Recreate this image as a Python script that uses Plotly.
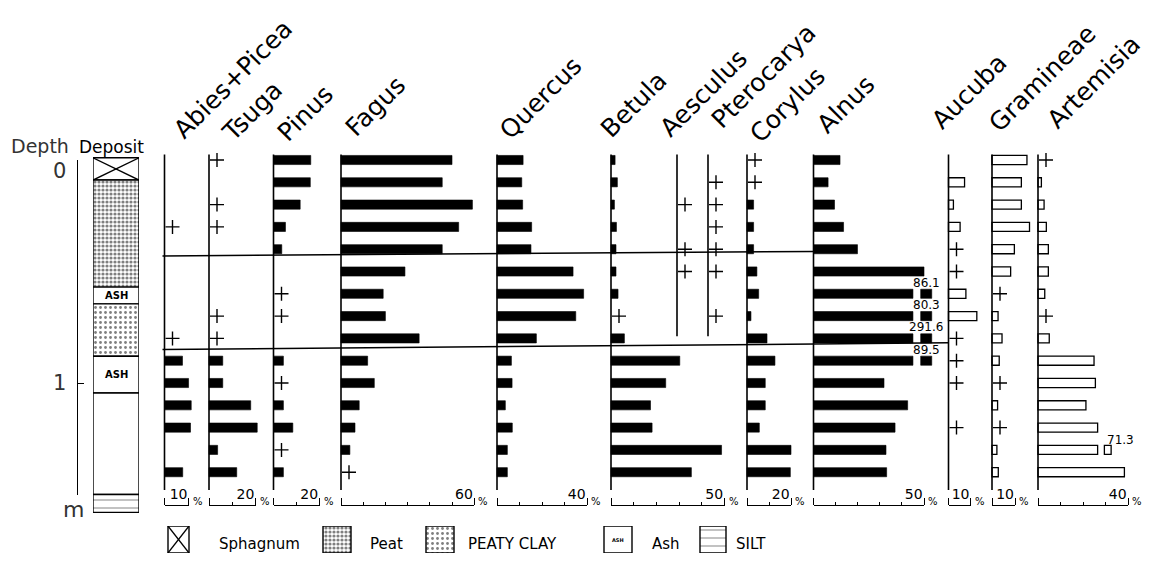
import plotly.graph_objects as go

W, H = 1156, 561
P = "+"  # trace (< 1 %)

# ---------------- data ----------------
DEPTHS_M = [0.0, 0.1, 0.2, 0.3, 0.4, 0.5, 0.6, 0.7, 0.8, 0.9, 1.0, 1.1, 1.2, 1.3, 1.4]

ABIES_PICEA = [0, 0, 0, P, 0, 0, 0, 0, P, 7.4, 9.9, 11.0, 10.7, 0, 7.5]
TSUGA = [P, 0, P, P, 0, 0, 0, P, P, 5.9, 5.9, 17.9, 20.7, 3.7, 11.9]
PINUS = [16.2, 16.0, 11.6, 5.2, 3.6, 0, P, P, 0, 4.3, P, 4.3, 8.4, P, 4.3]
FAGUS = [50.0, 45.6, 59.2, 53.0, 45.6, 28.8, 19.0, 20.0, 35.2, 12.0, 15.0, 8.2, 6.3, 4.0, P]
QUERCUS = [11.6, 11.0, 11.4, 15.4, 15.1, 33.8, 38.5, 35.0, 17.5, 6.4, 6.7, 3.7, 6.8, 4.6, 4.6]
BETULA = [1.8, 2.8, 1.5, 2.4, 2.2, 2.2, 3.1, P, 5.9, 30.3, 24.1, 17.4, 18.1, 48.7, 35.4]
AESCULUS = [0, 0, P, 0, P, P, 0, 0, 0]
PTEROCARYA = [0, P, P, P, P, P, 0, P, 0]
CORYLUS = [P, P, 3.0, 3.0, 3.0, 4.5, 5.3, 1.8, 9.1, 12.7, 8.3, 8.3, 5.6, 20.0, 19.7]
ALNUS = [12.0, 6.6, 9.5, 13.6, 19.9, 50.0, 86.1, 80.3, 291.6, 89.5, 31.9, 42.6, 36.9, 32.8, 33.1]
AUCUBA = [0, 7.2, 2.2, 5.2, P, P, 7.8, 12.7, P, P, P, 0, P, 0, 0]
GRAMINEAE = [15.0, 12.6, 12.6, 16.1, 9.6, 8.0, P, 2.6, 4.3, 3.1, P, 2.4, P, 2.1, 2.7]
ARTEMISIA = [P, 1.5, 2.7, 3.7, 4.6, 4.6, 3.0, P, 5.0, 24.9, 25.5, 21.3, 26.5, 71.3, 38.4]

TAXA = ["Abies+Picea", "Tsuga", "Pinus", "Fagus", "Quercus", "Betula", "Aesculus",
        "Pterocarya", "Corylus", "Alnus", "Aucuba", "Gramineae", "Artemisia"]
SERIES = [ABIES_PICEA, TSUGA, PINUS, FAGUS, QUERCUS, BETULA, AESCULUS,
          PTEROCARYA, CORYLUS, ALNUS, AUCUBA, GRAMINEAE, ARTEMISIA]
SCALE_BAR = [10, 20, 20, 60, 40, 50, None, None, 20, 50, 10, 10, 40]

DEPTH_TICKS = [0, 1]
DEPTH_TICK_LABELS = ["0", "1"]
DEPTH_AXIS_END_M = 1.5

# pollen zone boundaries (depth at left end, depth at right end) and the column where they stop
ZONE_BOUNDARIES = [(0.43, 0.41), (0.85, 0.82)]
ZONE_END_TAXON = ["Alnus", "Aucuba"]

# lithology
LITH_TOP = [-0.01, 0.09, 0.57, 0.645, 0.88, 1.045, 1.50]
LITH_BOTTOM = [0.09, 0.57, 0.645, 0.88, 1.045, 1.50, 1.58]
LITH_TYPE = ["Sphagnum", "Peat", "Ash", "Peaty clay", "Ash", "Unmarked", "Silt"]

LEGEND_TYPES = ["Sphagnum", "Peat", "Peaty clay", "Ash", "Silt"]
LEGEND_LABELS = ["Sphagnum", "Peat", "PEATY CLAY", "Ash", "SILT"]

# ---------------- style / layout ----------------
FONT = "DejaVu Sans"
DEPTH0_PX, PX_PER_M = 160, 223
COL_ZERO_PX = [164.5, 209, 273.5, 341, 497, 611, 677, 708, 747, 813.5, 948.5, 992, 1038]
COL_PX_PER_PCT = [2.43, 2.33, 2.3, 2.22, 2.25, 2.27, 2.25, 2.25, 2.2, 2.21, 2.23, 2.33, 2.25]
COL_WIDTH_PX = [40, 60, 62, 150, 105, 125, 28, 34, 60, 128, 40, 42, 112]
HOLLOW = {"Aucuba", "Gramineae", "Artemisia"}
BREAKS = {"Alnus": dict(limit=55, main=45.0, block=(48.5, 53.5), dx=0, dy=11),
          "Artemisia": dict(limit=45, main=26.5, block=(29.5, 32.5), dx=13, dy=10)}
HEADER_CENTER_PX = [(233, 80), (252, 111), (305, 113), (375, 106), (540, 98), (634, 105),
                    (703, 93), (763, 76), (788, 105), (846, 105), (969, 91), (1042, 78), (1093, 82)]
BAR_H = 0.041
PLUS_OFFSET_PX = 8
PAD = 3
LINE_TOP_M, LINE_BOTTOM_M = -0.025, 1.48
SCALE_Y_PX = 505
LITH_X_PX = (93, 139)
DEPTH_AXIS_X_PX = 77
DEPTH_LABEL_X_PX = 68
DEPTH_LABEL_DY = [-11, 0]

LEGEND_BOX_PX = [(168, 189), (323, 351), (426, 454), (604, 632), (700, 726)]
LEGEND_TEXT_X_PX = [217, 368, 466, 650, 734]
LEGEND_Y_PX = (526, 553)
LEGEND_TEXT_Y_PX = 544

LITH_STYLE = {
    "Sphagnum": dict(color="white"),
    "Peat": dict(color="white", pattern=dict(shape=".", fgcolor="black", size=4, solidity=0.5, fillmode="overlay")),
    "Peaty clay": dict(color="white", pattern=dict(shape=".", fgcolor="black", size=5, solidity=0.25, fillmode="overlay")),
    "Ash": dict(color="white"),
    "Unmarked": dict(color="white"),
    "Silt": dict(color="white", pattern=dict(shape="-", fgcolor="black", size=8, solidity=0.12, fillmode="overlay")),
}


def py(d):
    return DEPTH0_PX + PX_PER_M * d


def pxp(x):
    return x / W


def pyp(y):
    return 1 - y / H


fig = go.Figure()
layout = {}
annotations = []
shapes = []
axis_n = 0


def new_axis():
    global axis_n
    axis_n += 1
    return ("x" if axis_n == 1 else f"x{axis_n}"), ("xaxis" if axis_n == 1 else f"xaxis{axis_n}")


def text_ann(xpx, ypx, text, size, color="black", xanchor="center"):
    return dict(x=pxp(xpx), y=pyp(ypx), xref="paper", yref="paper", text=text, showarrow=False,
                xanchor=xanchor, yanchor="middle", font=dict(family=FONT, size=size, color=color))


for i, (name, vals) in enumerate(zip(TAXA, SERIES)):
    ax, key = new_axis()
    z, k, w = COL_ZERO_PX[i], COL_PX_PER_PCT[i], COL_WIDTH_PX[i]
    layout[key] = dict(domain=[pxp(z - PAD), pxp(z + w)], range=[-PAD / k, w / k],
                       visible=False, anchor="y", fixedrange=True)
    depths = DEPTHS_M[:len(vals)]
    hollow = name in HOLLOW
    fill = "white" if hollow else "black"
    lw = 1.3 if hollow else 0.6
    bx, by, plus_y = [], [], []
    blk_y, blk_base, blk_len = [], [], []
    br = BREAKS.get(name)
    for d, v in zip(depths, vals):
        if v == P:
            plus_y.append(d)
        elif v and v > 0:
            if br and v > br["limit"]:
                bx.append(br["main"])
                by.append(d)
                blk_y.append(d)
                blk_base.append(br["block"][0])
                blk_len.append(br["block"][1] - br["block"][0])
                annotations.append(dict(x=(br["block"][0] + br["block"][1]) / 2, y=d, xref=ax, yref="y",
                                        text=f"{v:.1f}", showarrow=False, xshift=br["dx"], yshift=br["dy"],
                                        xanchor="center", yanchor="middle",
                                        font=dict(family=FONT, size=12, color="black")))
            else:
                bx.append(v)
                by.append(d)
    if bx:
        fig.add_trace(go.Bar(x=bx, y=by, base=0, orientation="h", width=BAR_H,
                             marker=dict(color=fill, line=dict(color="black", width=lw)),
                             xaxis=ax, yaxis="y", showlegend=False, name=name))
    if blk_y:
        fig.add_trace(go.Bar(x=blk_len, y=blk_y, base=blk_base, orientation="h", width=BAR_H,
                             marker=dict(color=fill, line=dict(color="black", width=lw)),
                             xaxis=ax, yaxis="y", showlegend=False, name=name))
    if plus_y:
        fig.add_trace(go.Scatter(x=[PLUS_OFFSET_PX / k] * len(plus_y), y=plus_y, mode="markers",
                                 marker=dict(symbol="cross-thin", size=10, color="black",
                                             line=dict(width=1.4, color="black")),
                                 xaxis=ax, yaxis="y", showlegend=False, name=name))
    bottom = LINE_BOTTOM_M if len(vals) == len(DEPTHS_M) else depths[-1] - 0.01
    shapes.append(dict(type="line", xref=ax, yref="y", x0=0, x1=0, y0=LINE_TOP_M, y1=bottom,
                       line=dict(color="black", width=1.6)))
    cx, cy = HEADER_CENTER_PX[i]
    annotations.append(dict(x=pxp(cx), y=pyp(cy), xref="paper", yref="paper", text=name,
                            showarrow=False, textangle=-45, xanchor="center", yanchor="middle",
                            font=dict(family=FONT, size=25, color="black")))

# scale bars
for i, name in enumerate(TAXA):
    s = SCALE_BAR[i]
    if not s:
        continue
    ax, key = new_axis()
    z, k = COL_ZERO_PX[i], COL_PX_PER_PCT[i]
    minor_vals = [v for v in range(10, s, 10)]
    layout[key] = dict(domain=[pxp(z), pxp(z + s * k)], range=[0, s], anchor="free",
                       position=pyp(SCALE_Y_PX), side="top", showline=True, linecolor="black",
                       linewidth=1.3, ticks="outside", ticklen=7, tickwidth=1.3, tickcolor="black",
                       tickvals=[0, s], ticktext=["", str(s)], ticklabelposition="outside left",
                       ticklabelstandoff=0, tickfont=dict(family=FONT, size=14, color="black"),
                       showgrid=False, zeroline=False, fixedrange=True,
                       minor=dict(tickvals=minor_vals, ticklen=3, tickwidth=1, tickcolor="black",
                                  ticks="outside", showgrid=False))
    fig.add_trace(go.Scatter(x=[None], y=[None], xaxis=ax, yaxis="y", showlegend=False, hoverinfo="skip"))
    annotations.append(dict(x=s, y=pyp(SCALE_Y_PX - 4), xref=ax, yref="paper", text="%",
                            showarrow=False, xanchor="left", yanchor="middle", xshift=2,
                            font=dict(family=FONT, size=10, color="black")))

# zone boundaries
for (d_left, d_right), end_name in zip(ZONE_BOUNDARIES, ZONE_END_TAXON):
    shapes.append(dict(type="line", xref="paper", yref="y",
                       x0=pxp(COL_ZERO_PX[0] - 2), x1=pxp(COL_ZERO_PX[TAXA.index(end_name)]),
                       y0=d_left, y1=d_right, line=dict(color="black", width=1.5)))

# lithology column
lax, lkey = new_axis()
layout[lkey] = dict(domain=[pxp(LITH_X_PX[0]), pxp(LITH_X_PX[1])], range=[-0.5, 0.5],
                    visible=False, anchor="y", fixedrange=True)
for top, bot, typ in zip(LITH_TOP, LITH_BOTTOM, LITH_TYPE):
    st = LITH_STYLE[typ]
    fig.add_trace(go.Bar(x=[0], y=[bot - top], base=[top], width=1, xaxis=lax, yaxis="y",
                         marker=dict(color=st["color"], pattern=st.get("pattern", {}),
                                     line=dict(color="black", width=1.4)),
                         showlegend=False, name=typ))
    if typ == "Sphagnum":
        shapes.append(dict(type="line", xref=lax, yref="y", x0=-0.5, x1=0.5, y0=top, y1=bot,
                           line=dict(color="black", width=1.3)))
        shapes.append(dict(type="line", xref=lax, yref="y", x0=-0.5, x1=0.5, y0=bot, y1=top,
                           line=dict(color="black", width=1.3)))
    if typ == "Ash":
        annotations.append(dict(x=0, y=(top + bot) / 2, xref=lax, yref="y", text="<b>ASH</b>",
                                showarrow=False, xanchor="center", yanchor="middle",
                                font=dict(family=FONT, size=10, color="black")))

# depth axis
layout["yaxis"] = dict(domain=[0, 1], range=[(H - DEPTH0_PX) / PX_PER_M, -DEPTH0_PX / PX_PER_M],
                       visible=False, fixedrange=True)
layout["yaxis2"] = dict(domain=[pyp(py(DEPTH_AXIS_END_M)), pyp(py(0))], range=[DEPTH_AXIS_END_M, 0],
                        anchor="free", position=pxp(DEPTH_AXIS_X_PX), side="left", showline=True,
                        linecolor="black", linewidth=1.3, ticks="inside", ticklen=6, tickwidth=1.3,
                        tickcolor="black", tickvals=DEPTH_TICKS + [DEPTH_AXIS_END_M],
                        showticklabels=False, showgrid=False, zeroline=False, fixedrange=True)
fig.add_trace(go.Scatter(x=[None], y=[None], xaxis=lax, yaxis="y2", showlegend=False, hoverinfo="skip"))
for d, lab, dy in zip(DEPTH_TICKS, DEPTH_TICK_LABELS, DEPTH_LABEL_DY):
    annotations.append(dict(x=pxp(DEPTH_LABEL_X_PX), y=d, xref="paper", yref="y2", text=lab,
                            showarrow=False, xanchor="right", yanchor="middle", yshift=dy,
                            font=dict(family=FONT, size=21, color="#333")))

annotations.append(text_ann(40, 146, "Depth", 19, "#333"))
annotations.append(text_ann(111, 147, "Deposit", 17))
annotations.append(text_ann(73, 509, "m", 22, "#333"))

# legend (lithology key)
gax, gkey = new_axis()
layout[gkey] = dict(domain=[0, 1], range=[0, W], visible=False, anchor="y3", fixedrange=True)
layout["yaxis3"] = dict(domain=[pyp(LEGEND_Y_PX[1]), pyp(LEGEND_Y_PX[0])], range=[0, 1],
                        visible=False, anchor=gax, fixedrange=True)
for typ, lab, (x0, x1), tx in zip(LEGEND_TYPES, LEGEND_LABELS, LEGEND_BOX_PX, LEGEND_TEXT_X_PX):
    st = LITH_STYLE[typ]
    fig.add_trace(go.Bar(x=[(x0 + x1) / 2], y=[1], base=[0], width=x1 - x0, xaxis=gax, yaxis="y3",
                         marker=dict(color=st["color"], pattern=st.get("pattern", {}),
                                     line=dict(color="black", width=1.4)),
                         showlegend=False, name=lab))
    if typ == "Sphagnum":
        shapes.append(dict(type="line", xref=gax, yref="y3", x0=x0, x1=x1, y0=0, y1=1,
                           line=dict(color="black", width=1.3)))
        shapes.append(dict(type="line", xref=gax, yref="y3", x0=x0, x1=x1, y0=1, y1=0,
                           line=dict(color="black", width=1.3)))
    if typ == "Ash":
        annotations.append(dict(x=(x0 + x1) / 2, y=0.5, xref=gax, yref="y3", text="<b>ASH</b>",
                                showarrow=False, xanchor="center", yanchor="middle",
                                font=dict(family=FONT, size=5, color="black")))
    annotations.append(text_ann(tx, LEGEND_TEXT_Y_PX, lab, 15, xanchor="left"))

fig.update_layout(**layout)
fig.update_layout(width=W, height=H, margin=dict(l=0, r=0, t=0, b=0), autosize=False,
                  paper_bgcolor="white", plot_bgcolor="rgba(0,0,0,0)", barmode="overlay",
                  showlegend=False, annotations=annotations, shapes=shapes)
fig.write_html("out.html", config={"displayModeBar": False},
               post_script="document.body.style.margin='0';document.body.style.overflow='hidden';")
